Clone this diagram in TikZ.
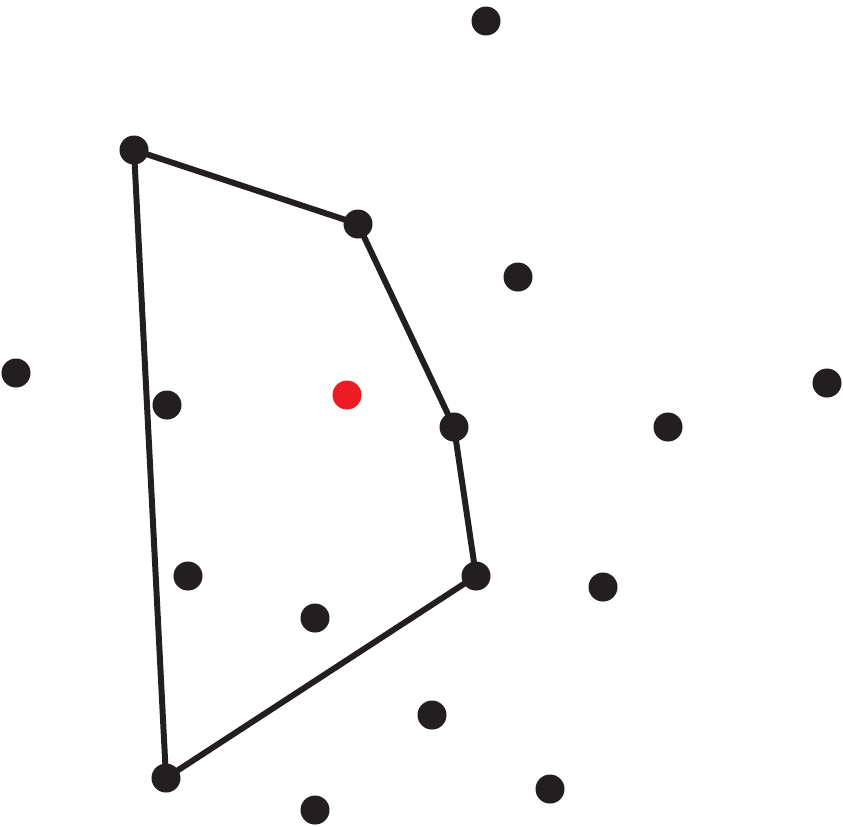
\documentclass[tikz,border=0pt]{standalone}
\definecolor{dotblack}{HTML}{231F20}
\definecolor{dotred}{HTML}{ED1C24}
\begin{document}
\begin{tikzpicture}[x=0.01cm,y=-0.01cm,
  pt/.style={circle,fill=dotblack,inner sep=0pt,minimum size=0.29cm},
  redpt/.style={circle,fill=dotred,inner sep=0pt,minimum size=0.29cm},
  hull/.style={draw=dotblack,line width=1.7pt,line join=round}]
\useasboundingbox (0,0) rectangle (843,826);
% hull vertices
\coordinate (A) at (134,150);
\coordinate (B) at (358,224);
\coordinate (C) at (454,427);
\coordinate (D) at (476,576);
\coordinate (E) at (166,778);
\draw[hull] (A) -- (B) -- (C) -- (D) -- (E) -- cycle;
\node[pt] (nA) at (A) {};
\node[pt] (nB) at (B) {};
\node[pt] (nC) at (C) {};
\node[pt] (nD) at (D) {};
\node[pt] (nE) at (E) {};
% other points
\node[pt] (p1) at (486,21) {};
\node[pt] (p2) at (518,277) {};
\node[pt] (p3) at (16,373) {};
\node[pt] (p4) at (167,405) {};
\node[pt] (p5) at (827,383) {};
\node[pt] (p6) at (668,427) {};
\node[pt] (p7) at (188,576) {};
\node[pt] (p8) at (315,618) {};
\node[pt] (p9) at (603,587) {};
\node[pt] (p10) at (432,715) {};
\node[pt] (p11) at (550,789) {};
\node[pt] (p12) at (315,810) {};
\node[redpt] (r) at (347,395) {};
\end{tikzpicture}
\end{document}
